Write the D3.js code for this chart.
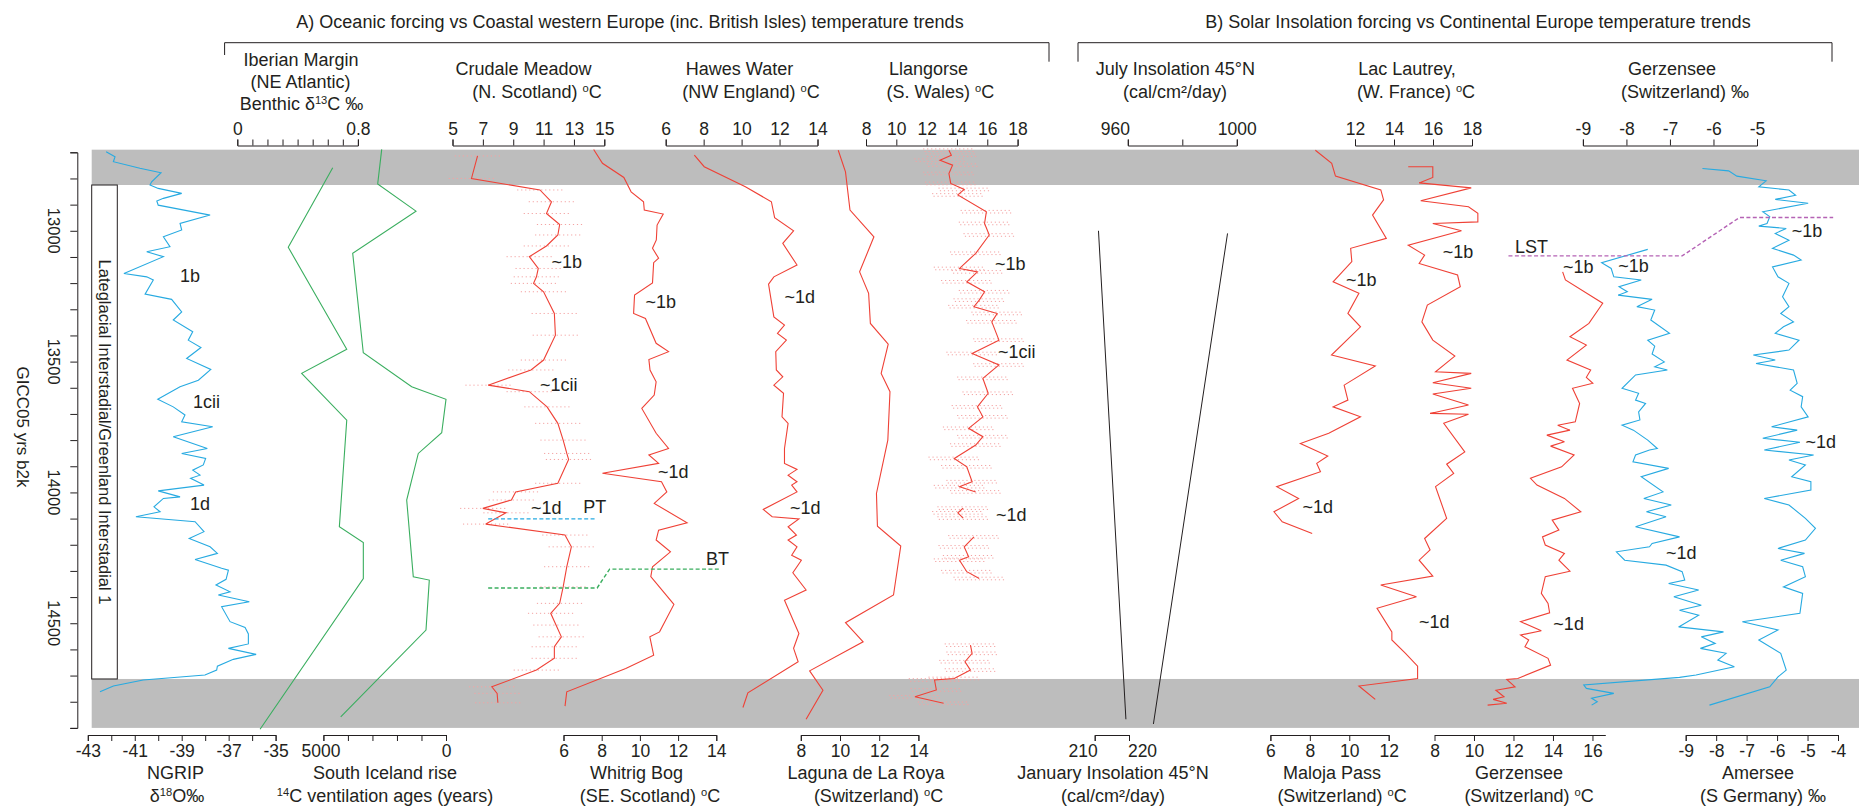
<!DOCTYPE html>
<html>
<head>
<meta charset="utf-8">
<title>Lateglacial Interstadial temperature trends</title>
<script src="https://cdn.jsdelivr.net/npm/d3@7"></script>
<style>
  html, body { margin: 0; padding: 0; background: #ffffff; }
  svg { display: block; }
  text { font-family: "Liberation Sans", Arial, Helvetica, sans-serif; fill: #231f20; }
</style>
</head>
<body>
<svg id="chart" width="1859" height="808"></svg>
<script>
// ------------------------------------------------------------------
// Records: [age (GICC05 yrs b2k), value]
// ------------------------------------------------------------------
const ngrip = [[12698,-42.22],[12717,-41.84],[12736,-41.91],[12761,-40.78],[12778,-39.88],[12813,-40.28],[12825,-40.35],[12838,-40.00],[12857,-39.00],[12876,-39.78],[12886,-40.06],[12902,-40.00],[12940,-37.79],[12972,-39.07],[12997,-39.00],[13023,-39.78],[13061,-39.50],[13080,-40.49],[13099,-39.78],[13163,-41.46],[13176,-40.49],[13188,-40.21],[13242,-40.56],[13262,-39.43],[13310,-39.00],[13341,-39.36],[13386,-38.53],[13418,-38.72],[13446,-38.18],[13488,-38.79],[13530,-37.76],[13571,-38.29],[13596,-39.07],[13644,-40.02],[13673,-39.36],[13704,-38.86],[13730,-39.00],[13749,-37.68],[13787,-39.36],[13832,-37.91],[13851,-39.00],[13870,-37.98],[13895,-38.08],[13915,-38.53],[13934,-38.22],[13946,-38.62],[13972,-38.05],[13994,-40.00],[14017,-39.07],[14023,-39.78],[14055,-40.18],[14074,-39.92],[14093,-40.95],[14112,-38.43],[14150,-38.05],[14176,-38.68],[14208,-37.79],[14233,-37.48],[14256,-38.43],[14290,-37.30],[14297,-37.01],[14332,-37.11],[14354,-37.54],[14380,-36.94],[14392,-37.44],[14418,-36.12],[14437,-37.30],[14494,-36.94],[14516,-36.30],[14541,-36.16],[14579,-36.16],[14596,-37.01],[14619,-35.83],[14638,-36.80],[14664,-37.48],[14679,-37.51],[14698,-38.01],[14717,-40.64],[14740,-41.91],[14762,-42.48]];

const iberian = [[12759,0.633],[13063,0.338],[13453,0.726],[13545,0.427],[13724,0.726],[14131,0.677],[14192,0.836],[14329,0.836],[14905,0.151]];

const iceland = [[12689,2622],[12821,2786],[12925,1223],[13086,3805],[13466,3373],[13596,1399],[13644,0],[13772,175],[13851,1130],[14029,1603],[14322,1334],[14335,681],[14526,816],[14858,4294]];

const crudale = [[12714,6.65],[12800,6.25],[12844,10.76],[12889,11.52],[12934,11.19],[12976,12.06],[13016,11.94],[13058,11.19],[13099,10.06],[13144,10.65],[13176,10.53],[13201,10.34],[13233,11.00],[13316,11.71],[13399,11.78],[13494,11.00],[13532,10.17],[13590,7.35],[13615,10.06],[13673,11.23],[13736,11.94],[13800,12.29],[13851,12.53],[13874,12.65],[13965,11.94],[13998,9.16],[14029,8.88],[14061,7.00],[14078,8.53],[14121,7.19],[14163,12.41],[14208,12.83],[14284,12.53],[14361,12.29],[14424,12.06],[14462,11.47],[14507,11.82],[14552,12.17],[14590,11.71],[14634,11.71],[14679,10.53],[14743,7.59],[14768,7.94],[14804,7.99]];
const crudaleError = 1.5;

const whitrig = [[12689,7.58],[12742,8.04],[12796,9.16],[12851,9.54],[12889,10.19],[12921,10.23],[12936,11.22],[12978,10.90],[13035,10.86],[13067,10.66],[13105,10.98],[13122,10.72],[13199,10.66],[13246,9.72],[13316,9.67],[13335,10.29],[13430,10.85],[13462,11.50],[13492,10.47],[13532,10.53],[13577,10.85],[13628,10.75],[13679,10.10],[13774,10.85],[13832,11.50],[13857,10.47],[13889,10.98],[13927,8.04],[13959,11.13],[13998,11.41],[14042,10.75],[14116,12.47],[14144,10.98],[14182,10.85],[14227,11.60],[14284,10.66],[14322,10.57],[14428,11.78],[14533,11.03],[14552,10.52],[14622,10.72],[14673,9.26],[14762,6.17],[14817,6.08]];

const hawes = [[12711,7.51],[12755,8.03],[12832,10.20],[12889,11.57],[12950,11.74],[13000,12.74],[13048,12.17],[13131,12.92],[13176,11.70],[13204,11.42],[13329,11.70],[13360,12.26],[13392,11.89],[13418,12.36],[13462,11.80],[13532,11.83],[13558,12.17],[13590,11.70],[13621,12.21],[13711,12.13],[13736,12.45],[13832,12.26],[13889,12.26],[13912,12.92],[13934,12.45],[13959,12.92],[13972,12.64],[13998,12.92],[14065,11.14],[14093,11.61],[14101,13.02],[14131,12.45],[14163,12.89],[14182,12.45],[14208,12.92],[14240,12.64],[14259,13.15],[14307,12.70],[14373,13.40],[14412,12.26],[14539,13.02],[14596,12.74],[14647,12.98],[14766,10.33],[14822,10.07]];

const roya = [[12692,9.91],[12775,10.28],[12921,10.51],[13023,11.73],[13157,11.00],[13239,11.46],[13354,11.55],[13433,12.46],[13545,12.10],[13615,12.55],[13800,12.44],[14004,11.86],[14129,11.91],[14205,13.10],[14392,12.73],[14498,10.28],[14571,11.18],[14682,8.45],[14756,9.13],[14867,8.27]];

// null marks a break in the Llangorse record
const llangorse = [[12692,13.47],[12711,13.63],[12730,12.88],[12749,13.71],[12781,13.47],[12819,13.59],[12842,14.48],[12863,14.06],[12927,15.94],[12972,15.82],[13016,16.13],[13086,15.24],[13144,14.17],[13157,15.35],[13195,14.65],[13233,15.82],[13265,15.47],[13290,15.12],[13316,16.65],[13348,16.30],[13418,16.77],[13469,15.00],[13513,16.77],[13564,15.71],[13621,16.06],[13673,15.35],[13711,15.71],[13755,14.77],[13787,15.71],[13819,15.24],[13870,13.82],[13902,14.65],[13959,15.00],[13978,14.17],[13998,15.24],[14030,null],[14060,14.41],[14078,14.06],[14098,14.41],[14130,null],[14170,15.12],[14208,14.48],[14246,14.77],[14259,14.17],[14303,14.65],[14329,15.47],[14450,null],[14584,14.89],[14615,15.00],[14647,14.53],[14679,14.89],[14711,13.82],[14717,12.52],[14755,12.64],[14781,11.23],[14806,13.12]];
const llangorseError = 1.7;

const julyInsolation = [[13010,996.6],[14885,969.4]];
const januaryInsolation = [[13000,211.1],[14867,219.1]];

const maloja = [[12692,8.28],[12742,9.11],[12791,9.30],[12844,11.60],[12882,11.74],[12940,11.18],[13029,11.88],[13067,10.07],[13118,10.13],[13195,9.18],[13239,10.49],[13316,9.93],[13367,10.57],[13475,9.10],[13517,11.32],[13590,9.74],[13647,9.93],[13673,9.18],[13711,10.57],[13774,8.96],[13813,7.52],[13861,8.91],[13889,8.35],[13921,8.54],[13978,6.32],[14023,7.43],[14074,6.18],[14112,6.60],[14157,8.12]];

const lautrey = [[12755,14.73],[12755,15.99],[12796,15.99],[12817,15.29],[12836,17.96],[12885,15.37],[12908,17.82],[12933,18.30],[12966,18.30],[12972,15.99],[13000,17.46],[13055,14.73],[13093,15.57],[13125,15.29],[13169,17.26],[13214,17.40],[13284,15.71],[13348,15.43],[13418,15.99],[13479,17.12],[13539,16.13],[13545,17.96],[13581,15.99],[13602,17.96],[13624,15.99],[13666,17.82],[13698,15.85],[13701,17.82],[13736,16.55],[13845,17.63],[13892,16.70],[13927,17.06],[13978,16.13],[14099,16.70],[14176,15.57],[14220,15.85],[14259,15.29],[14320,15.99],[14354,13.32],[14399,15.15],[14443,13.13],[14533,13.89],[14564,13.89],[14615,14.59],[14664,15.21],[14711,15.21],[14740,12.20],[14791,13.04]];

const gerzenseeT = [[13157,14.49],[13188,14.63],[13277,16.52],[13354,15.82],[13405,14.86],[13437,15.69],[13494,14.71],[13532,15.91],[13560,15.69],[13583,16.02],[13602,14.99],[13660,15.35],[13730,15.13],[13743,14.24],[13762,14.86],[13781,13.69],[13806,14.58],[13823,13.88],[13857,15.07],[13902,14.44],[13946,12.86],[13972,13.19],[14023,14.58],[14074,15.41],[14106,13.96],[14144,14.30],[14170,13.47],[14201,13.61],[14233,14.58],[14259,14.30],[14301,14.86],[14322,13.61],[14386,13.41],[14424,13.75],[14460,13.83],[14494,12.36],[14529,13.41],[14545,12.36],[14564,12.77],[14590,12.58],[14634,13.75],[14660,13.88],[14711,12.22],[14715,11.66],[14743,12.08],[14756,11.11],[14781,11.52],[14791,10.97],[14806,11.66],[14813,10.69]];

const gerzenseeO = [[13071,-7.51],[13122,-8.57],[13144,-8.35],[13176,-8.29],[13188,-7.66],[13214,-8.17],[13233,-7.98],[13246,-8.19],[13262,-7.41],[13290,-7.76],[13303,-7.35],[13341,-7.44],[13392,-7.01],[13418,-7.51],[13441,-7.35],[13471,-7.41],[13501,-7.13],[13520,-7.35],[13532,-7.06],[13551,-7.79],[13602,-8.10],[13621,-7.72],[13647,-7.79],[13660,-7.56],[13692,-7.72],[13723,-7.69],[13743,-8.10],[13762,-7.84],[13800,-7.51],[13832,-7.29],[13838,-7.47],[13857,-7.79],[13883,-7.85],[13908,-7.03],[13940,-7.66],[13998,-7.16],[14023,-7.60],[14048,-6.97],[14074,-7.54],[14093,-7.09],[14131,-7.79],[14170,-6.78],[14195,-7.41],[14208,-7.47],[14227,-8.23],[14259,-8.04],[14278,-7.09],[14303,-6.72],[14335,-6.66],[14348,-7.03],[14373,-6.34],[14399,-6.91],[14431,-6.28],[14450,-6.78],[14469,-6.34],[14514,-6.80],[14533,-5.77],[14552,-6.28],[14577,-5.96],[14596,-6.30],[14615,-5.71],[14641,-5.90],[14666,-5.52],[14698,-6.40],[14707,-6.78],[14736,-8.98],[14749,-8.92],[14768,-8.29],[14787,-8.80],[14800,-8.67],[14813,-8.80]];

const amersee = [[12762,-8.45],[12771,-7.59],[12791,-7.32],[12809,-6.36],[12832,-6.60],[12844,-5.61],[12864,-5.39],[12880,-6.06],[12895,-4.98],[12927,-6.47],[12946,-6.24],[12972,-6.33],[12982,-6.60],[12991,-5.70],[13010,-6.06],[13036,-5.61],[13067,-6.15],[13093,-5.46],[13112,-5.21],[13138,-6.15],[13176,-5.97],[13201,-5.61],[13252,-5.82],[13290,-5.61],[13316,-5.88],[13348,-5.46],[13367,-5.79],[13392,-6.06],[13418,-5.28],[13456,-5.61],[13475,-6.78],[13494,-6.06],[13507,-6.69],[13532,-5.46],[13583,-5.34],[13609,-5.57],[13634,-5.16],[13673,-5.21],[13711,-4.98],[13749,-6.18],[13762,-5.34],[13793,-6.47],[13808,-5.25],[13838,-6.42],[13857,-4.80],[13876,-5.61],[13895,-5.07],[13940,-5.52],[13959,-4.89],[13991,-4.89],[14023,-6.42],[14048,-5.61],[14099,-5.07],[14137,-4.74],[14182,-5.07],[14214,-5.97],[14233,-5.10],[14259,-5.88],[14284,-5.16],[14322,-5.07],[14361,-5.79],[14386,-5.16],[14462,-5.25],[14494,-7.14],[14526,-5.97],[14564,-6.60],[14615,-5.88],[14679,-5.70],[14705,-5.97],[14743,-6.24],[14813,-8.22]];

// Stadial intervals (grey) and the interstadial between them
const stadialBands = [[12690, 12825], [14713, 14900]];
const interstadial = [12825, 14713];

// Tephra isochrons: [age, value on the host record's scale]
const ptTrace  = [[14101, 7.35], [14101, 14.41]];
const btTrace  = [[14365, 7.35], [14365, 14.53], [14293, 15.35], [14293, 22.65]];
const lstTrace = [[13096, -10.71], [13096, -6.72], [12949, -5.40], [12949, -3.25]];

// Event labels: [text, record, value, age]
const eventLabels = [
  ['1b','ngrip',-39.07,13196], ['1cii','ngrip',-38.52,13678], ['1d','ngrip',-38.65,14068],
  ['~1b','crudale',11.52,13143], ['~1cii','crudale',10.76,13613], ['~1d','crudale',10.17,14083],
  ['~1b','whitrig',10.29,13295], ['~1d','whitrig',10.95,13945],
  ['~1d','hawes',12.26,13276], ['~1d','hawes',12.55,14083],
  ['~1b','llangorse',16.51,13150], ['~1cii','llangorse',16.71,13487], ['~1d','llangorse',16.58,14110],
  ['~1b','maloja',9.83,13211], ['~1d','maloja',7.63,14079],
  ['~1b','lautrey',16.50,13104], ['~1d','lautrey',15.28,14518],
  ['~1b','gerzenseeT',14.51,13162], ['~1d','gerzenseeT',14.02,14526],
  ['~1b','gerzenseeO',-8.19,13158], ['~1d','gerzenseeO',-7.09,14255],
  ['~1b','amersee',-5.52,13024], ['~1d','amersee',-5.07,13830],
  ['PT','crudale',13.61,14079], ['BT','whitrig',13.46,14278], ['LST','gerzenseeT',12.08,13085]
];

// Tick labels
const ageTickLabels = [13000, 13500, 14000, 14500];
const ngripTickLabels = [-43, -41, -39, -37, -35];
const iberianTickLabels = [0, 0.8];
const icelandTickLabels = [5000, 0];
const crudaleTickLabels = [5, 7, 9, 11, 13, 15];
const whitrigTickLabels = [6, 8, 10, 12, 14];
const hawesTickLabels = [6, 8, 10, 12, 14];
const royaTickLabels = [8, 10, 12, 14];
const llangorseTickLabels = [8, 10, 12, 14, 16, 18];
const julyTickLabels = [960, 1000];
const januaryTickLabels = [210, 220];
const malojaTickLabels = [6, 8, 10, 12];
const lautreyTickLabels = [12, 14, 16, 18];
const gerzenseeTTickLabels = [8, 10, 12, 14, 16];
const gerzenseeOTickLabels = [-9, -8, -7, -6, -5];
const amerseeTickLabels = [-9, -8, -7, -6, -5, -4];

// Axis titles (^...^ = superscript)
const sectionTitles = [
  'A) Oceanic forcing vs Coastal western Europe (inc. British Isles) temperature trends',
  'B) Solar Insolation forcing vs Continental Europe temperature trends'
];
const recordTitles = {
  ngrip: ['NGRIP', 'δ^18^O‰'],
  iberian: ['Iberian Margin', '(NE Atlantic)', 'Benthic δ^13^C ‰'],
  iceland: ['South Iceland rise', '^14^C ventilation ages (years)'],
  crudale: ['Crudale Meadow', '(N. Scotland) ^o^C'],
  whitrig: ['Whitrig Bog', '(SE. Scotland) ^o^C'],
  hawes: ['Hawes Water', '(NW England) ^o^C'],
  roya: ['Laguna de La Roya', '(Switzerland)  ^o^C'],
  llangorse: ['Llangorse', '(S. Wales) ^o^C'],
  july: ['July Insolation 45°N', '(cal/cm²/day)'],
  january: ['January Insolation 45°N', '(cal/cm²/day)'],
  maloja: ['Maloja Pass', '(Switzerland) ^o^C'],
  lautrey: ['Lac Lautrey,', '(W. France) ^o^C'],
  gerzenseeT: ['Gerzensee', '(Switzerland) ^o^C'],
  gerzenseeO: ['Gerzensee', '(Switzerland) ‰'],
  amersee: ['Amersee', '(S Germany) ‰']
};
const ageAxisTitle = 'GICC05 yrs b2k';
const interstadialTitle = 'Lateglacial Interstadial/Greenland Interstadial 1';

// ------------------------------------------------------------------
// Drawing
// ------------------------------------------------------------------
const INK = '#231f20', RED = '#ef4136', BLUE = '#27aae1', GREEN = '#3aae5f',
      BLACK = '#231f20', GREY = '#bdbdbd', ERR = '#f4a3a3', PURPLE = '#b563b5';

const svg = d3.select('#chart');
const W = 1859;

const y = d3.scaleLinear().domain([12700, 14900]).range([152.3, 727.9]);

// horizontal layout of every record: scale range, axis side, title placement
const panels = {
  ngrip:      { domain: [-43, -35],  range: [87.8, 275.6],    side: 'bottom', ticks: d3.range(-43, -34), labels: ngripTickLabels, titleX: [175.5, 177] },
  iberian:    { domain: [0, 0.8],    range: [237.3, 357.9],   side: 'top', ticks: d3.range(9).map(i => i / 10), labels: iberianTickLabels, titleX: [301, 300.6, 301.6] },
  iceland:    { domain: [5000, 0],   range: [323.4, 446],     side: 'bottom', ticks: d3.range(0, 5001, 1000), labels: icelandTickLabels, titleX: [385, 385], labelDx: {5000: -3} },
  crudale:    { domain: [5, 15],     range: [452.5, 604.3],   side: 'top', ticks: crudaleTickLabels, labels: crudaleTickLabels, titleX: [523.6, 537] },
  whitrig:    { domain: [6, 14],     range: [563.5, 716.3],   side: 'bottom', ticks: whitrigTickLabels, labels: whitrigTickLabels, titleX: [636.5, 650] },
  hawes:      { domain: [6, 14],     range: [665.7, 817.5],   side: 'top', ticks: hawesTickLabels, labels: hawesTickLabels, titleX: [739.5, 751] },
  roya:       { domain: [8, 14],     range: [800.8, 918.4],   side: 'bottom', ticks: royaTickLabels, labels: royaTickLabels, titleX: [866, 878.5] },
  llangorse:  { domain: [8, 18],     range: [866, 1017.6],    side: 'top', ticks: llangorseTickLabels, labels: llangorseTickLabels, titleX: [928.6, 940.4] },
  july:       { domain: [960, 1000], range: [1127.8, 1236.8], side: 'top', ticks: [960, 980, 1000], labels: julyTickLabels, titleX: [1175.4, 1175], labelDx: {960: -13} },
  january:    { domain: [210, 220],  range: [1094.7, 1129],   side: 'bottom', ticks: januaryTickLabels, labels: januaryTickLabels, titleX: [1113, 1113], labelDx: {210: -12, 220: 13} },
  maloja:     { domain: [6, 12],     range: [1270.4, 1388.7], side: 'bottom', ticks: malojaTickLabels, labels: malojaTickLabels, titleX: [1332, 1342] },
  lautrey:    { domain: [12, 18],    range: [1355, 1472],     side: 'top', ticks: lautreyTickLabels, labels: lautreyTickLabels, titleX: [1407, 1416] },
  gerzenseeT: { domain: [8, 16.65],  range: [1434.5, 1605.3], side: 'bottom', ticks: gerzenseeTTickLabels, labels: gerzenseeTTickLabels, titleX: [1519, 1529], outer: 0 },
  gerzenseeO: { domain: [-9, -5],    range: [1582.9, 1757],   side: 'top', ticks: gerzenseeOTickLabels, labels: gerzenseeOTickLabels, titleX: [1672, 1685] },
  amersee:    { domain: [-9, -4],    range: [1685.7, 1838],   side: 'bottom', ticks: amerseeTickLabels, labels: amerseeTickLabels, titleX: [1758, 1763] }
};
Object.values(panels).forEach(p => { p.x = d3.scaleLinear().domain(p.domain).range(p.range); });

// text with ^superscript^ segments
function richText(sel, str, size) {
  const parts = str.split('^');
  parts.forEach((part, i) => {
    if (!part) return;
    const t = sel.append('tspan').text(part);
    if (i % 2 === 1) t.attr('font-size', size * 0.62).attr('dy', -size * 0.36);
    else if (i > 0) t.attr('dy', size * 0.36);
  });
}

// ---- stadial bands and interstadial bar ----
const bandLeft = 91.7;
svg.append('g').selectAll('rect').data(stadialBands).join('rect')
  .attr('x', bandLeft).attr('width', W - bandLeft)
  .attr('y', d => y(d[0])).attr('height', d => y(d[1]) - y(d[0]))
  .attr('fill', GREY);

svg.append('rect')
  .attr('x', bandLeft).attr('width', 25.6)
  .attr('y', y(interstadial[0])).attr('height', y(interstadial[1]) - y(interstadial[0]))
  .attr('fill', '#fff').attr('stroke', INK).attr('stroke-width', 1);

svg.append('text')
  .attr('transform', `translate(104.5,${(y(interstadial[0]) + y(interstadial[1])) / 2}) rotate(90)`)
  .attr('text-anchor', 'middle').attr('dy', '0.35em')
  .attr('font-size', 16.5).text(interstadialTitle);

// ---- age axis ----
const ageAxis = d3.axisLeft(y).tickValues(d3.range(12700, 14901, 100))
  .tickSize(7).tickSizeOuter(7).tickFormat('');
const ag = svg.append('g').attr('transform', 'translate(77.3,0)').call(ageAxis).attr('color', INK);
ag.selectAll('path,line').attr('stroke-width', 1);

svg.append('g').selectAll('text').data(ageTickLabels).join('text')
  .attr('transform', d => `translate(54,${y(d)}) rotate(90)`)
  .attr('text-anchor', 'middle').attr('dy', '0.35em').attr('font-size', 16.5)
  .text(d => d);

svg.append('text')
  .attr('transform', 'translate(23,427) rotate(90)')
  .attr('text-anchor', 'middle').attr('dy', '0.35em').attr('font-size', 17)
  .text(ageAxisTitle);

// ---- record curves ----
const series = [
  { key: 'ngrip', data: ngrip, color: BLUE },
  { key: 'iberian', data: iberian, color: GREEN },
  { key: 'iceland', data: iceland, color: GREEN },
  { key: 'crudale', data: crudale, color: RED, err: crudaleError, rows: [0] },
  { key: 'whitrig', data: whitrig, color: RED },
  { key: 'hawes', data: hawes, color: RED },
  { key: 'roya', data: roya, color: RED },
  { key: 'llangorse', data: llangorse, color: RED, err: llangorseError, rows: [-1.3, 1.3] },
  { key: 'july', data: julyInsolation, color: BLACK },
  { key: 'january', data: januaryInsolation, color: BLACK },
  { key: 'maloja', data: maloja, color: RED },
  { key: 'lautrey', data: lautrey, color: RED },
  { key: 'gerzenseeT', data: gerzenseeT, color: RED },
  { key: 'gerzenseeO', data: gerzenseeO, color: BLUE },
  { key: 'amersee', data: amersee, color: BLUE }
];

// dotted uncertainty bars first, so the curves sit on top
const errG = svg.append('g').attr('stroke', ERR).attr('stroke-width', 1)
  .attr('stroke-dasharray', '1.2,2.8').attr('fill', 'none');
series.filter(s => s.err).forEach(s => {
  const xs = panels[s.key].x;
  const pts = s.data.filter(d => d[1] != null);
  s.rows.forEach((off, i) => {
    errG.append('g').attr('transform', `translate(${i * 1.4},${off})`)
      .selectAll('line').data(pts).join('line')
      .attr('x1', d => xs(d[1] - s.err)).attr('x2', d => xs(d[1] + s.err))
      .attr('y1', d => y(d[0])).attr('y2', d => y(d[0]));
  });
});

series.forEach(s => {
  const xs = panels[s.key].x;
  const line = d3.line().defined(d => d[1] != null).x(d => xs(d[1])).y(d => y(d[0]));
  svg.append('path').datum(s.data)
    .attr('d', line).attr('fill', 'none')
    .attr('stroke', s.color)
    .attr('stroke-width', s.color === BLACK ? 1 : 1.1)
    .attr('stroke-linejoin', 'miter').attr('stroke-miterlimit', 3);
});

// ---- tephra isochrons ----
const tephra = [
  { panel: 'crudale', trace: ptTrace, color: BLUE },
  { panel: 'crudale', trace: btTrace, color: GREEN },
  { panel: 'gerzenseeO', trace: lstTrace, color: PURPLE }
];
tephra.forEach(t => {
  const xs = panels[t.panel].x;
  svg.append('path').datum(t.trace)
    .attr('d', d3.line().x(d => xs(d[1])).y(d => y(d[0])))
    .attr('fill', 'none').attr('stroke', t.color).attr('stroke-width', 1.4)
    .attr('stroke-dasharray', '4,2.4');
});

// ---- event labels ----
svg.append('g').selectAll('text').data(eventLabels).join('text')
  .attr('x', d => panels[d[1]].x(d[2])).attr('y', d => y(d[3]))
  .attr('font-size', 18).text(d => d[0]);

// ---- record axes ----
const TOP_RULE = 145.5, BOTTOM_RULE = 735;
Object.entries(panels).forEach(([key, p]) => {
  const top = p.side === 'top';
  const axis = (top ? d3.axisTop : d3.axisBottom)(p.x)
    .tickValues(p.ticks).tickSize(6).tickSizeOuter(p.outer ?? 6)
    .tickFormat(d => p.labels.some(l => Math.abs(l - d) < 1e-9) ? String(d) : '');
  const g = svg.append('g')
    .attr('transform', `translate(0,${top ? TOP_RULE : BOTTOM_RULE})`)
    .call(axis)
    .attr('color', INK).attr('font-family', null).attr('font-size', null);
  g.selectAll('.tick text')
    .attr('y', top ? -10.5 : 21.5).attr('dy', 0).attr('font-size', 17.5)
    .attr('dx', d => (p.labelDx && p.labelDx[d]) || 0);

  // record title
  const lines = recordTitles[key];
  const baselines = top
    ? (lines.length === 3 ? [65.5, 87.5, 110] : [75, 98])
    : [779, 802];
  lines.forEach((txt, i) => {
    const t = svg.append('text')
      .attr('x', p.titleX[i]).attr('y', baselines[i])
      .attr('text-anchor', 'middle').attr('font-size', 18);
    richText(t, txt, 18);
  });
});

// ---- section headers and brackets ----
svg.append('text').attr('x', 630).attr('y', 28).attr('text-anchor', 'middle')
  .attr('font-size', 18).text(sectionTitles[0]);
svg.append('text').attr('x', 1478).attr('y', 28).attr('text-anchor', 'middle')
  .attr('font-size', 18).text(sectionTitles[1]);

const bracket = d3.line();
svg.append('path').attr('d', bracket([[224.6, 55], [224.6, 42.7], [1049, 42.7], [1049, 61.7]]))
  .attr('fill', 'none').attr('stroke', INK).attr('stroke-width', 1);
svg.append('path').attr('d', bracket([[1078, 61.7], [1078, 42.7], [1832, 42.7], [1832, 61.7]]))
  .attr('fill', 'none').attr('stroke', INK).attr('stroke-width', 1);
</script>
</body>
</html>
